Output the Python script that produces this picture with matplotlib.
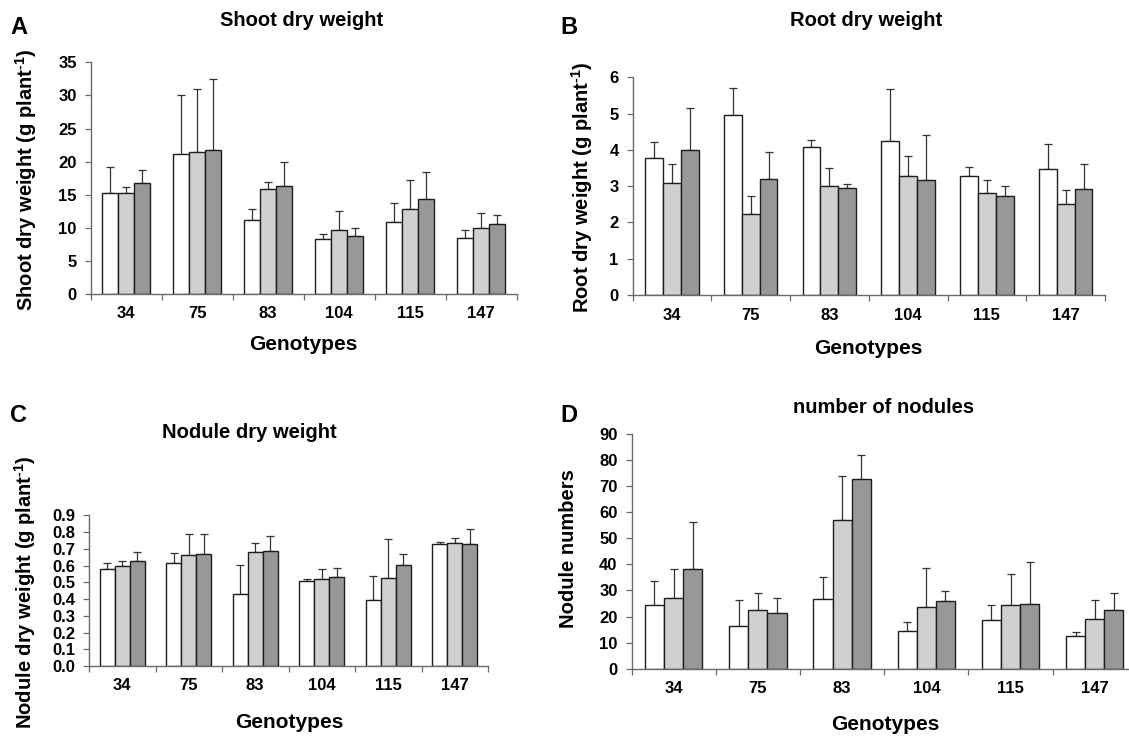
import matplotlib
matplotlib.use("Agg")
import matplotlib.pyplot as plt
import numpy as np

plt.rcParams["font.family"] = ["Liberation Sans", "DejaVu Sans"]
plt.rcParams["font.weight"] = "bold"
plt.rcParams["mathtext.fontset"] = "custom"
plt.rcParams["mathtext.rm"] = "Liberation Sans:bold"
plt.rcParams["mathtext.bf"] = "Liberation Sans:bold"
plt.rcParams["mathtext.it"] = "Liberation Sans:bold"
plt.rcParams["mathtext.default"] = "bf"

genotypes = ["34", "75", "83", "104", "115", "147"]

# Shoot dry weight (g plant-1): means and standard errors per treatment
shoot_t1 = [15.2, 21.1, 11.2, 8.3, 10.9, 8.5]
shoot_t2 = [15.3, 21.4, 15.8, 9.7, 12.8, 10.0]
shoot_t3 = [16.7, 21.7, 16.3, 8.7, 14.3, 10.6]
shoot_t1_se = [4.0, 8.9, 1.6, 0.8, 2.8, 1.2]
shoot_t2_se = [0.9, 9.6, 1.1, 2.8, 4.4, 2.2]
shoot_t3_se = [2.1, 10.8, 3.7, 1.2, 4.1, 1.4]

# Root dry weight (g plant-1)
root_t1 = [3.78, 4.97, 4.08, 4.24, 3.28, 3.47]
root_t2 = [3.09, 2.23, 3.01, 3.29, 2.81, 2.50]
root_t3 = [3.99, 3.20, 2.96, 3.18, 2.74, 2.93]
root_t1_se = [0.43, 0.73, 0.19, 1.43, 0.25, 0.69]
root_t2_se = [0.53, 0.49, 0.49, 0.54, 0.36, 0.40]
root_t3_se = [1.17, 0.74, 0.11, 1.24, 0.27, 0.68]

# Nodule dry weight (g plant-1)
nodw_t1 = [0.582, 0.616, 0.429, 0.507, 0.395, 0.727]
nodw_t2 = [0.600, 0.662, 0.680, 0.517, 0.528, 0.733]
nodw_t3 = [0.628, 0.668, 0.685, 0.534, 0.604, 0.727]
nodw_t1_se = [0.036, 0.058, 0.175, 0.010, 0.143, 0.016]
nodw_t2_se = [0.028, 0.129, 0.057, 0.063, 0.233, 0.034]
nodw_t3_se = [0.055, 0.123, 0.094, 0.052, 0.064, 0.092]

# Number of nodules per plant
nodn_t1 = [24.4, 16.5, 26.8, 14.6, 18.5, 12.7]
nodn_t2 = [27.2, 22.4, 57.1, 23.5, 24.4, 18.9]
nodn_t3 = [38.2, 21.2, 72.7, 26.1, 24.8, 22.5]
nodn_t1_se = [9.1, 10.0, 8.4, 3.4, 5.9, 1.5]
nodn_t2_se = [11.2, 6.7, 16.7, 15.2, 11.9, 7.3]
nodn_t3_se = [18.2, 6.0, 9.4, 3.6, 16.0, 6.6]

bar_colors = ["#ffffff", "#d0d0d0", "#989898"]
edge_color = "#1e1e1e"
err_color = "#333333"
spine_color = "#6a6a6a"

W, H = 1129, 737
fig = plt.figure(figsize=(W / 100, H / 100), dpi=100)

UNIT = r"(g plant$^{\text{-1}}$)"


def px_axes(left, right, y0, ytop):
    """Axes from pixel coordinates (origin top-left)."""
    return fig.add_axes([left / W, 1 - y0 / H, (right - left) / W, (y0 - ytop) / H])


def ftext(x, y, s, **kw):
    fig.text(x / W, 1 - y / H, s, **kw)


def draw_panel(ax, series, errors, ymax, ystep, fmt):
    n = len(genotypes)
    x = np.arange(n) + 0.5
    bw = 0.227
    for k, (vals, errs) in enumerate(zip(series, errors)):
        pos = x + (k - 1) * bw
        ax.bar(pos, vals, width=bw, color=bar_colors[k], edgecolor=edge_color,
               linewidth=1.0, zorder=2)
        ax.errorbar(pos, vals, yerr=[np.zeros(n), errs], fmt="none",
                    ecolor=err_color, elinewidth=0.9, capsize=2.6,
                    capthick=0.9, zorder=1)
    ax.set_xlim(0, n)
    ax.set_ylim(0, ymax)
    ax.set_xticks(x)
    ax.set_xticklabels(genotypes, fontsize=12, fontweight="bold")
    ax.set_xticks(np.arange(n + 1), minor=True)
    ax.tick_params(axis="x", which="major", length=0, pad=9)
    ax.tick_params(axis="x", which="minor", length=4, width=0.9,
                   color=spine_color, direction="out")
    ticks = np.arange(0, ymax + ystep / 2, ystep)
    ax.set_yticks(ticks)
    ax.set_yticklabels([fmt.format(t) for t in ticks], fontsize=12,
                       fontweight="bold")
    ax.tick_params(axis="y", length=4, width=0.9, color=spine_color, pad=6)
    for side in ("top", "right"):
        ax.spines[side].set_visible(False)
    for side in ("left", "bottom"):
        ax.spines[side].set_color(spine_color)
        ax.spines[side].set_linewidth(1.0)
    ax.patch.set_alpha(0)


# Panel A
axA = px_axes(90.7, 516.7, 294, 62.4)
draw_panel(axA, [shoot_t1, shoot_t2, shoot_t3],
           [shoot_t1_se, shoot_t2_se, shoot_t3_se], 35, 5, "{:.0f}")
ftext(10, 27, "A", fontsize=17, fontweight="bold", va="center", ha="left")
ftext(302, 20, "Shoot dry weight", fontsize=14.5, fontweight="bold",
      ha="center", va="center")
ftext(303, 344, "Genotypes", fontsize=15, fontweight="bold", ha="center",
      va="center")
ftext(26, 180, "Shoot dry weight " + UNIT, fontsize=14.5,
      fontweight="bold", rotation=90, ha="center", va="center")

# Panel B
axB = px_axes(632.5, 1105, 295, 77.3)
draw_panel(axB, [root_t1, root_t2, root_t3],
           [root_t1_se, root_t2_se, root_t3_se], 6, 1, "{:.0f}")
ftext(560, 27, "B", fontsize=17, fontweight="bold", va="center", ha="left")
ftext(866, 21, "Root dry weight", fontsize=14.5, fontweight="bold",
      ha="center", va="center")
ftext(868, 349, "Genotypes", fontsize=15, fontweight="bold", ha="center",
      va="center")
ftext(582, 187, "Root dry weight " + UNIT, fontsize=14.5,
      fontweight="bold", rotation=90, ha="center", va="center")

# Panel C
axC = px_axes(89, 488, 666, 515.3)
draw_panel(axC, [nodw_t1, nodw_t2, nodw_t3],
           [nodw_t1_se, nodw_t2_se, nodw_t3_se], 0.9, 0.1, "{:.1f}")
ftext(10, 415, "C", fontsize=17, fontweight="bold", va="center", ha="left")
ftext(249, 433, "Nodule dry weight", fontsize=14.5, fontweight="bold",
      ha="center", va="center")
ftext(289, 722, "Genotypes", fontsize=15, fontweight="bold", ha="center",
      va="center")
ftext(25, 592, "Nodule dry weight " + UNIT, fontsize=14.5,
      fontweight="bold", rotation=90, ha="center", va="center")

# Panel D (axis runs past the right edge of the figure)
axD = px_axes(631.5, 1136.9, 668.7, 434)
draw_panel(axD, [nodn_t1, nodn_t2, nodn_t3],
           [nodn_t1_se, nodn_t2_se, nodn_t3_se], 90, 10, "{:.0f}")
ftext(560, 415, "D", fontsize=17, fontweight="bold", va="center", ha="left")
ftext(884, 407, "number of nodules", fontsize=14.5, fontweight="bold",
      ha="center", va="center")
ftext(885, 725, "Genotypes", fontsize=15, fontweight="bold", ha="center",
      va="center")
ftext(569, 549, "Nodule numbers", fontsize=14.5, fontweight="bold",
      rotation=90, ha="center", va="center")

fig.savefig("out.png", dpi=100)
